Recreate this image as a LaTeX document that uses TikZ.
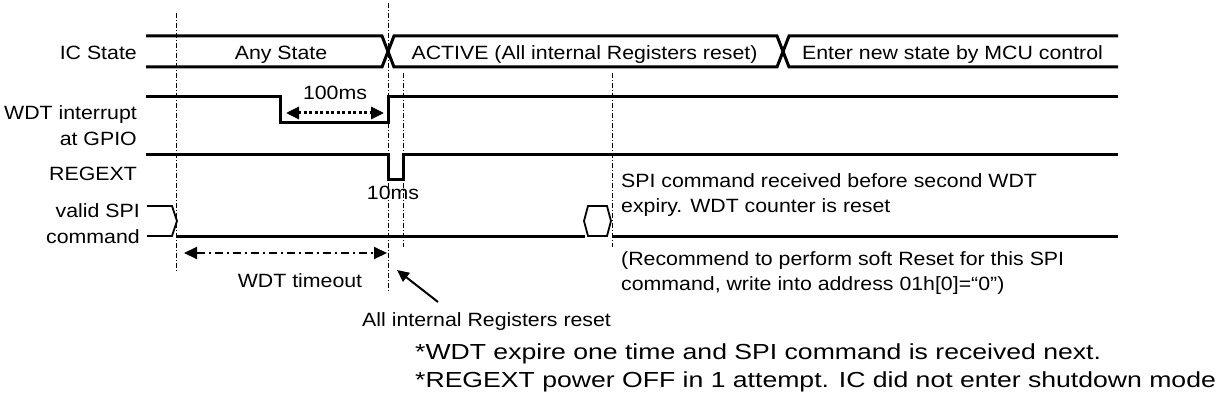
\documentclass[tikz,border=0pt]{standalone}
\usepackage{fontspec}
\setmainfont{Liberation Sans}[FakeStretch=1.11]
\newfontfamily\notefont{Liberation Sans}[FakeStretch=1.22]
\usetikzlibrary{arrows.meta}
\begin{document}
\begin{tikzpicture}[x=1pt,y=-1pt,
  sig/.style={line width=3pt, line join=miter},
  thinsig/.style={line width=1.8pt, line join=miter},
  guide/.style={line width=0.9pt, dash pattern=on 5pt off 2pt on 1pt off 2pt},
  lbl/.style={font=\fontsize{19.2}{22}\selectfont, inner sep=0pt},
  note/.style={font=\notefont\fontsize{21.8}{28}\selectfont, inner sep=0pt},
  dimarrow/.style={{Triangle[length=13pt,width=12pt]}-{Triangle[length=13pt,width=12pt]}},
  ptrarrow/.style={line width=2pt, -{Triangle[length=12pt,width=11pt]}}]
\useasboundingbox (0,0) rectangle (1222,409);

% guide lines
\draw[guide] (176.5,13) coordinate (g1a) -- (176.5,272) coordinate (g1b);
\draw[guide] (388,3) coordinate (g2a) -- (388,293) coordinate (g2b);
\draw[guide] (403,73) coordinate (g3a) -- (403,247) coordinate (g3b);
\draw[guide] (612,73) coordinate (g4a) -- (612,247) coordinate (g4b);

% IC State bus
\draw[sig] (146,36) -- (382,36) -- (394,67) -- (777,67) -- (789,36) -- (1118,36);
\draw[sig] (146,67) -- (382,67) -- (394,36) -- (777,36) -- (789,67) -- (1118,67);
\node[lbl, anchor=base east] (lic) at (137,60) {IC State};
\node[lbl, anchor=base] (s1) at (281,60) {Any State};
\node[lbl, anchor=base] (s2) at (584.5,60) {ACTIVE (All internal Registers reset)};
\node[lbl, anchor=base] (s3) at (952.5,60) {Enter new state by MCU control};

% WDT interrupt
\draw[sig] (146,97) -- (280,97) -- (280,122) -- (388,122) -- (388,97) -- (1118,97);
\node[lbl, anchor=base east] (lwdt1) at (137,120) {WDT interrupt};
\node[lbl, anchor=base east] (lwdt2) at (137,145) {at GPIO};
\coordinate (a100l) at (286,113);
\coordinate (a100r) at (384,113);
\draw[dimarrow, line width=3pt, dash pattern=on 3pt off 2.5pt] (a100l) -- (a100r);
\node[lbl, anchor=base] (l100) at (335,100) {100ms};

% REGEXT
\draw[sig] (146,154) -- (388,154) -- (388,179) -- (403,179) -- (403,154) -- (1118,154);
\node[lbl, anchor=base east] (lreg) at (137,180) {REGEXT};
\node[lbl, anchor=base] (l10) at (393,199) {10ms};

% valid SPI command
\draw[thinsig] (147,206) -- (172,206) -- (177,221) -- (172,236) -- (147,236);
\draw[sig] (177,236) -- (585,236);
\draw[thinsig] (584,221) -- (588,206) -- (607,206) -- (611,221) -- (607,236) -- (588,236) -- cycle;
\draw[sig] (612,236) -- (1118,236);
\node[lbl, anchor=base east] (lspi1) at (140,217) {valid SPI};
\node[lbl, anchor=base east] (lspi2) at (140,243) {command};

% WDT timeout
\coordinate (tol) at (184,253);
\coordinate (tor) at (387,253);
\draw[dimarrow, line width=2pt, dash pattern=on 8pt off 4pt on 2pt off 4pt] (tol) -- (tor);
\node[lbl, anchor=base] (lto) at (300,287) {WDT timeout};

% pointer
\coordinate (ptail) at (438,302);
\coordinate (ptip) at (397,270);
\draw[ptrarrow] (ptail) -- (ptip);
\node[lbl, anchor=base west] (lreset) at (362,326) {All internal Registers reset};

% right notes
\node[lbl, anchor=base west] (r1) at (621,187) {SPI command received before second WDT};
\node[lbl, anchor=base west] (r2) at (621,212) {expiry. WDT counter is reset};
\node[lbl, anchor=base west] (r3) at (621,265) {(Recommend to perform soft Reset for this SPI};
\node[lbl, anchor=base west] (r4) at (621,290) {command, write into address 01h[0]=“0”)};

% bottom notes
\node[note, anchor=base west] (n1) at (415,359) {*WDT expire one time and SPI command is received next.};
\node[note, anchor=base west] (n2) at (415,387) {*REGEXT power OFF in 1 attempt. IC did not enter shutdown mode};
\end{tikzpicture}
\end{document}
